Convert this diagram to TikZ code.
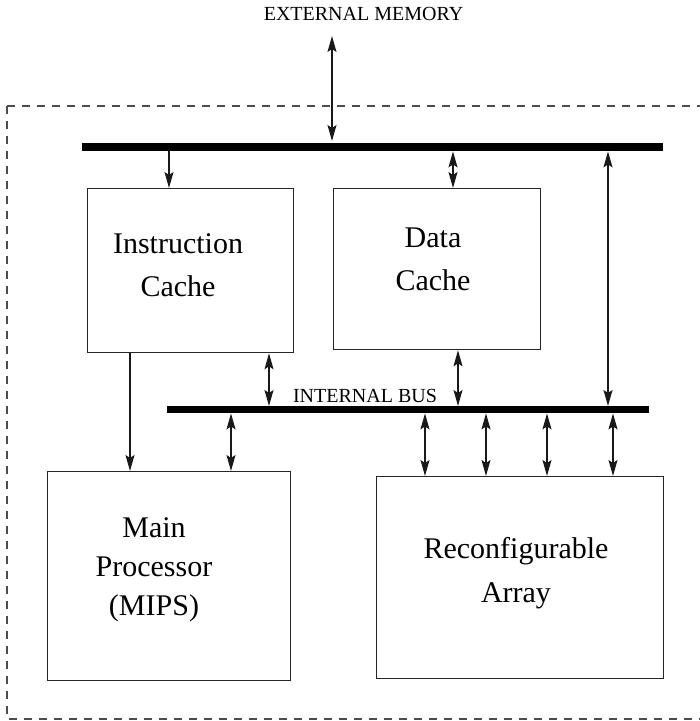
\documentclass[tikz,border=0pt]{standalone}
\usepackage{fontspec}
\setmainfont{Liberation Serif}
\usetikzlibrary{arrows.meta}
\begin{document}
\begin{tikzpicture}[x=1pt,y=-1pt,
  box/.style={draw=black!85,line width=1.3pt,inner sep=0pt,anchor=north west,fill=white},
  bus/.style={fill=black,draw=none,inner sep=0pt,anchor=north west},
  big/.style={font=\fontsize{30}{43}\selectfont,align=center,inner sep=0pt},
  small/.style={font=\fontsize{20}{24}\selectfont,inner sep=0pt,anchor=base},
  conn/.style={line width=1.3pt,black!90},
  both/.style={conn,{Stealth[length=16pt,width=9pt,inset=3pt]}-{Stealth[length=16pt,width=9pt,inset=3pt]}},
  one/.style={conn,-{Stealth[length=16pt,width=9pt,inset=3pt]}},
  frame/.style={draw=black!70,line width=1.3pt,dash pattern=on 8pt off 7pt}]
\useasboundingbox (0,0) rectangle (700,721);
% outer dashed boundary
\draw[frame] (7,106) rectangle (703,719);
% buses
\node[bus,minimum width=581pt,minimum height=8pt] (extbus) at (82,143) {};
\node[bus,minimum width=482pt,minimum height=7pt] (intbus) at (167,406) {};
% boxes
\node[box,minimum width=206pt,minimum height=164pt] (ic) at (87,188) {};
\node[box,minimum width=207pt,minimum height=161pt] (dc) at (333,188) {};
\node[box,minimum width=243pt,minimum height=209pt] (mp) at (47,471) {};
\node[box,minimum width=287pt,minimum height=202pt] (ra) at (376,476) {};
% texts
\node[small] (extmem) at (363.5,20) {EXTERNAL MEMORY};
\node[small] (intlabel) at (365,402) {INTERNAL BUS};
\node[big] (ictext) at (178,265) {Instruction\\Cache};
\node[big] (dctext) at (433,259) {Data\\Cache};
\node[big,font=\fontsize{30}{39}\selectfont] (mptext) at (154,570) {Main\\Processor\\(MIPS)};
\node[big,font=\fontsize{30}{44}\selectfont] (ratext) at (516,573) {Reconfigurable\\Array};
% connector x positions
\coordinate (em) at (332,36);
\coordinate (xa) at (169,0);
\coordinate (xb) at (453,0);
\coordinate (xc) at (608,0);
\coordinate (xd) at (269,0);
\coordinate (xe) at (458,0);
\coordinate (xf) at (130,0);
\coordinate (xg) at (231,0);
\coordinate (xh) at (425,0);
\coordinate (xi) at (486,0);
\coordinate (xj) at (547,0);
\coordinate (xk) at (613,0);
% connectors
\draw[both,shorten >=2pt] (em) -- (extbus.north -| em);
\draw[one] (extbus.south -| xa) -- (ic.north -| xa);
\draw[both] (extbus.south -| xb) -- (dc.north -| xb);
\draw[both] (extbus.south -| xc) -- (intbus.north -| xc);
\draw[both] (ic.south -| xd) -- (intbus.north -| xd);
\draw[both] (dc.south -| xe) -- (intbus.north -| xe);
\draw[one] (ic.south -| xf) -- (mp.north -| xf);
\draw[both] (intbus.south -| xg) -- (mp.north -| xg);
\draw[both] (intbus.south -| xh) -- (ra.north -| xh);
\draw[both] (intbus.south -| xi) -- (ra.north -| xi);
\draw[both] (intbus.south -| xj) -- (ra.north -| xj);
\draw[both] (intbus.south -| xk) -- (ra.north -| xk);
\end{tikzpicture}
\end{document}
